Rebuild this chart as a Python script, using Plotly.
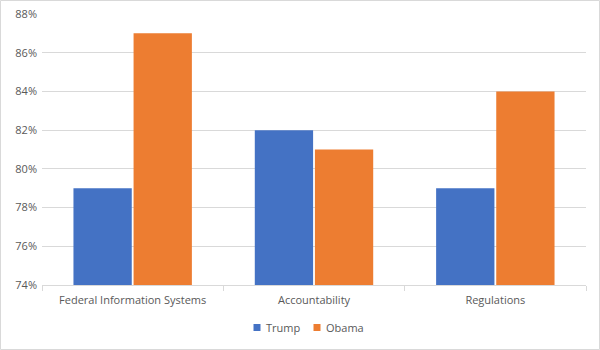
import plotly.graph_objects as go

categories = ["Federal Information Systems", "Accountability", "Regulations"]
trump = [79, 82, 79]
obama = [87, 81, 84]
y_ticks = [74, 76, 78, 80, 82, 84, 86, 88]
series_names = ["Trump", "Obama"]
series_colors = ["#4472C4", "#ED7D31"]

W, H = 600, 350
L, R, T, B = 42, 14, 14, 65
pw, ph = W - L - R, H - T - B

def px_x(p):
    return (p - L) / pw

def px_y(p):
    return (T + ph - p) / ph

fig = go.Figure()
for name, vals, col in zip(series_names, [trump, obama], series_colors):
    fig.add_trace(go.Bar(name=name, x=categories, y=vals, marker=dict(color=col, line=dict(width=0))))

font = dict(family="Open Sans, Liberation Sans, sans-serif", size=11, color="#595959")

shapes = [dict(type="rect", xref="paper", yref="paper",
               x0=px_x(0.5), x1=px_x(W - 0.5), y0=px_y(H - 0.5), y1=px_y(0.5),
               line=dict(color="#d9d9d9", width=1), fillcolor="rgba(0,0,0,0)", layer="below")]
annotations = []
legend_sq_x = [253.5, 313.5]
for name, col, sx in zip(series_names, series_colors, legend_sq_x):
    shapes.append(dict(type="rect", xref="paper", yref="paper",
                       x0=px_x(sx), x1=px_x(sx + 7), y0=px_y(331), y1=px_y(324),
                       line=dict(width=0), fillcolor=col))
    annotations.append(dict(text=name, xref="paper", yref="paper", x=px_x(sx + 10), y=px_y(327.5),
                            xanchor="left", yanchor="middle", showarrow=False, font=font))

fig.update_layout(
    width=W, height=H,
    margin=dict(l=L, r=R, t=T, b=B, autoexpand=False),
    paper_bgcolor="white", plot_bgcolor="white",
    barmode="group", bargap=0.337, bargroupgap=0.03,
    font=font,
    showlegend=False,
    xaxis=dict(type="category", showline=True, linecolor="#d9d9d9", linewidth=1,
               ticks="outside", tickson="boundaries", ticklen=5, tickcolor="#d9d9d9",
               showgrid=False, tickfont=font, automargin=False, ticklabelstandoff=5),
    yaxis=dict(range=[74, 88], tickvals=y_ticks, ticktext=[f"{v}%" for v in y_ticks],
               showgrid=True, gridcolor="#d9d9d9", gridwidth=1, zeroline=False,
               showline=False, tickfont=font, automargin=False, ticklabelstandoff=4),
    shapes=shapes,
    annotations=annotations,
)

fig.write_html("out.html")
